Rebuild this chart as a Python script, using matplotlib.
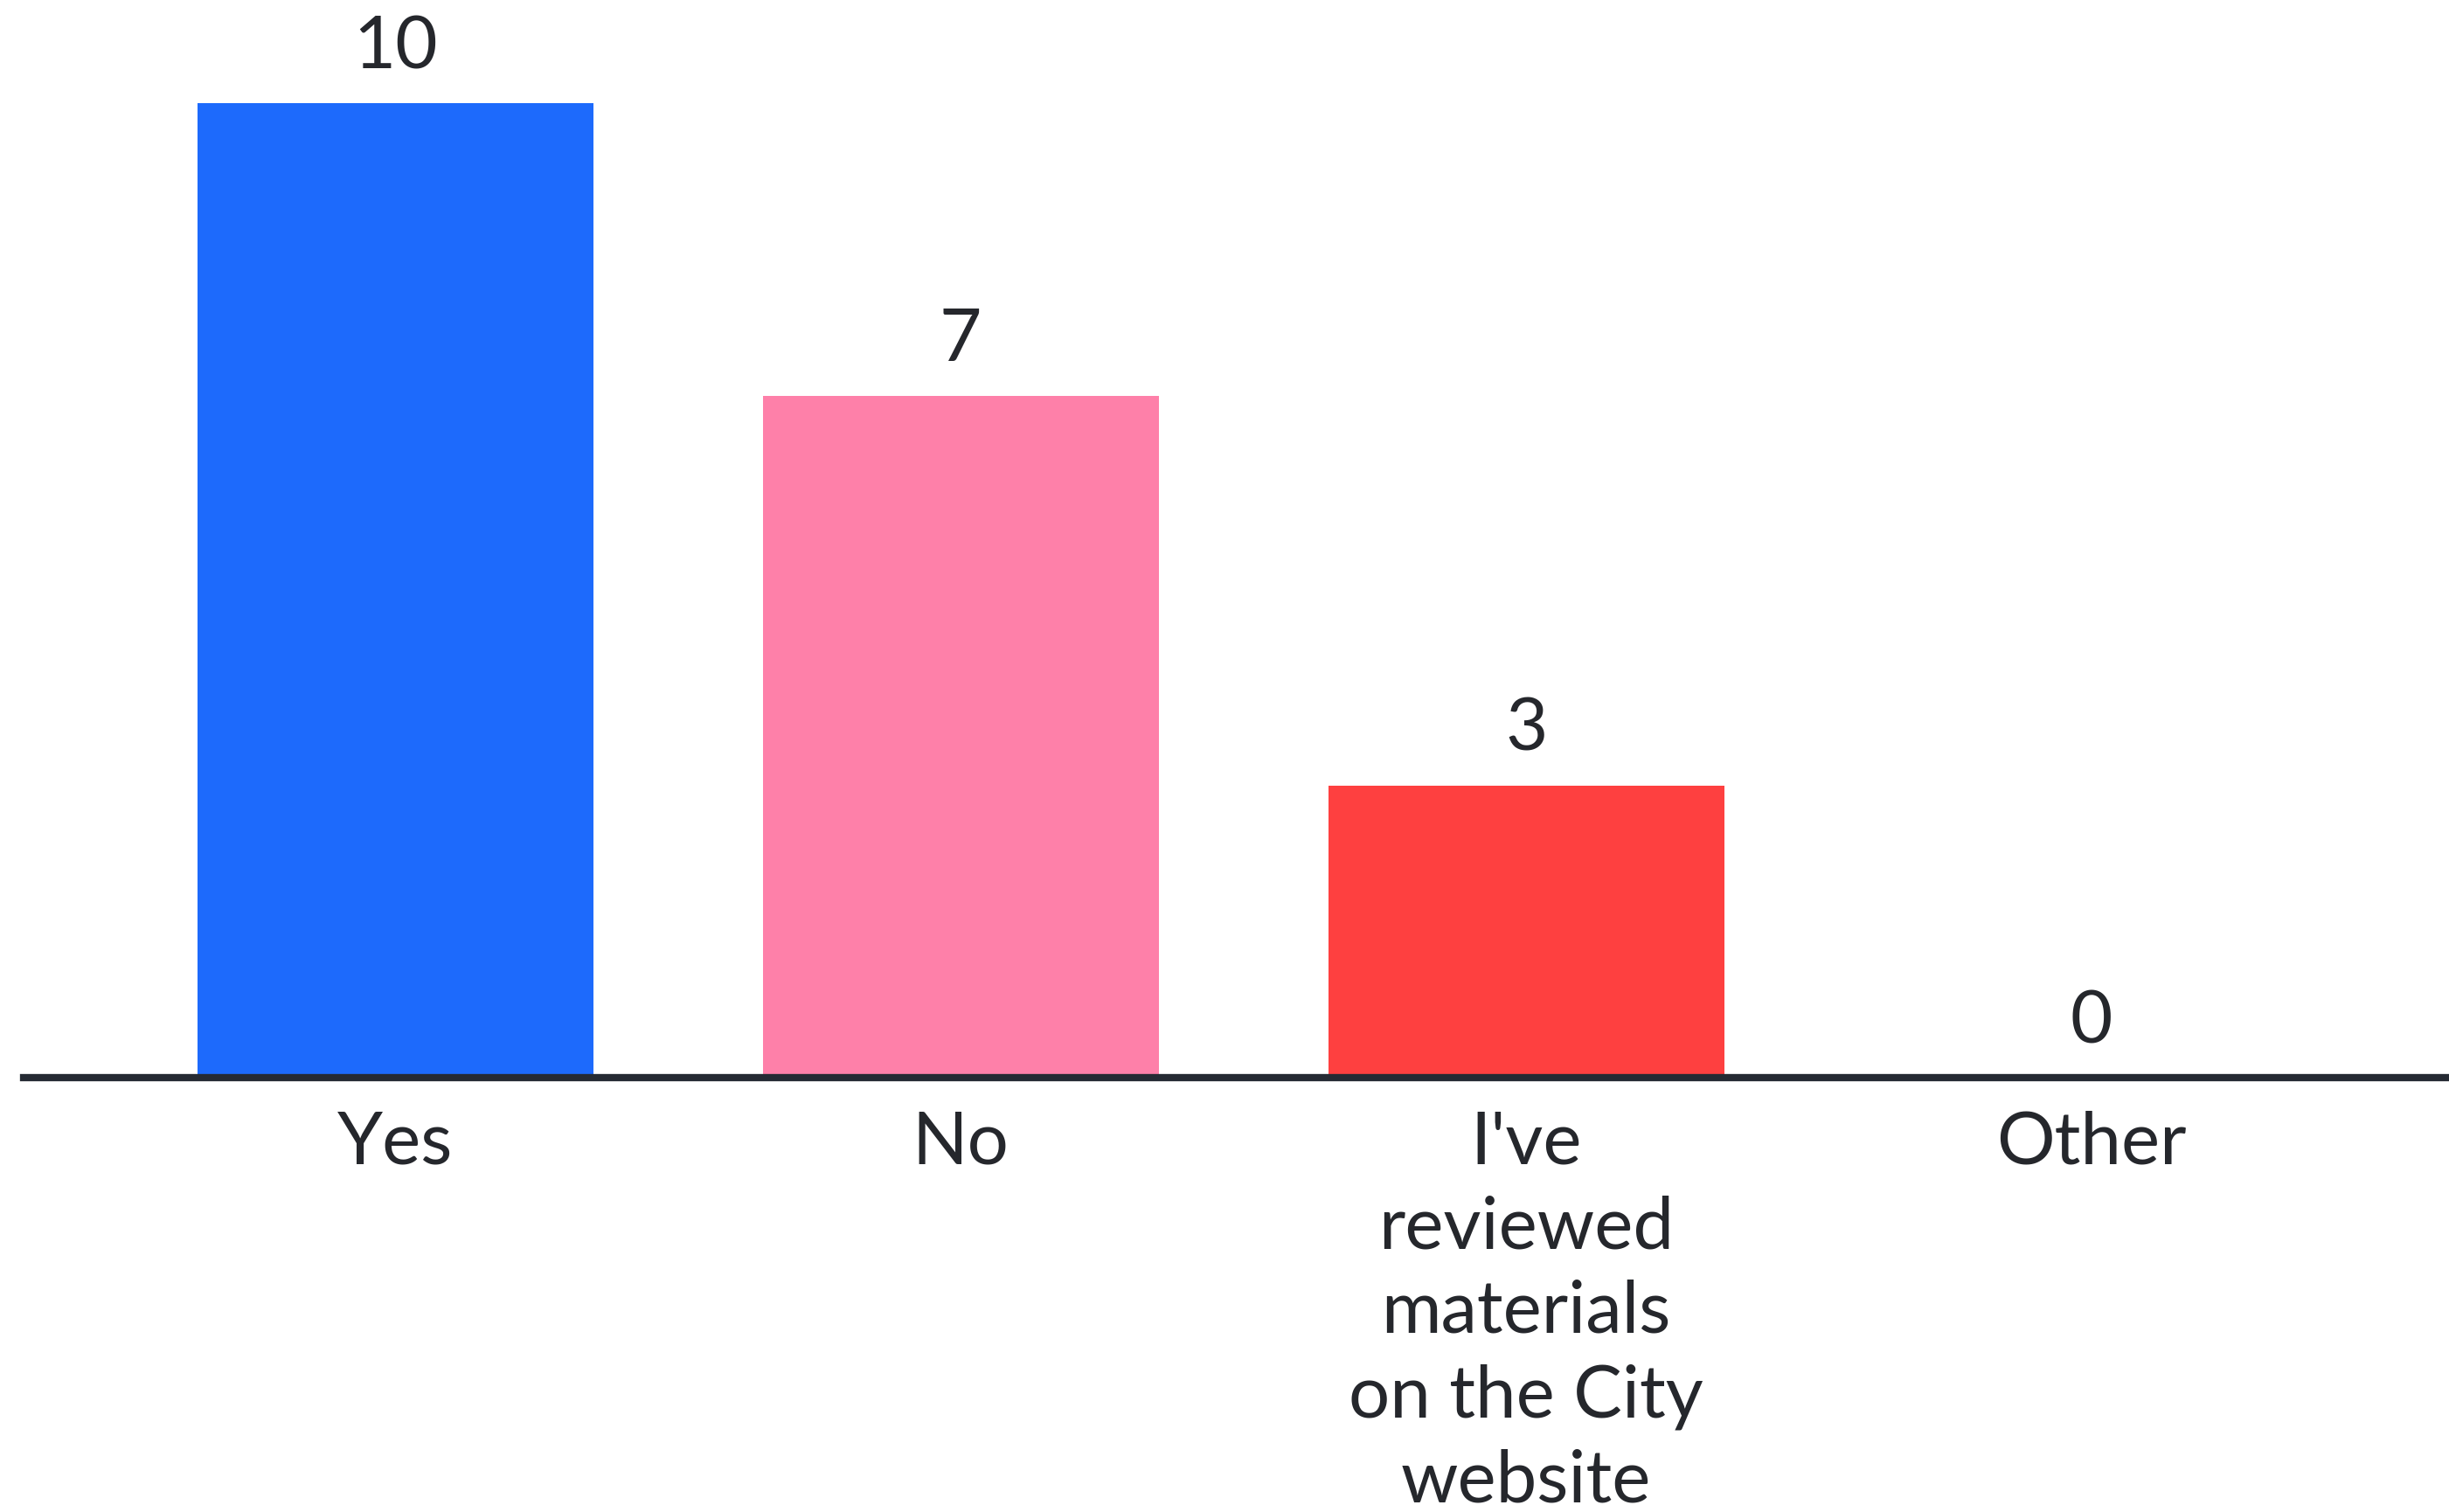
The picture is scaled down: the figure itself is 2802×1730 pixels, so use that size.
import matplotlib
matplotlib.use('Agg')
from matplotlib import pyplot as plt

categories = ['Yes', 'No', "I've\nreviewed\nmaterials\non the City\nwebsite", 'Other']
counts = [10, 7, 3, 0]
colors = ['#1d6afc', '#fe80a9', '#fe4040', '#999999']

plt.rcParams['font.family'] = ['Lato', 'DejaVu Sans']
txt = '#25272c'

fig = plt.figure(figsize=(28.02, 17.30), dpi=100)
ax = fig.add_axes([27/2802, (1730-1233)/1730, (2802-27)/2802, 1233/1730])

x = list(range(len(categories)))
bars = ax.bar(x, counts, width=0.70, color=colors, zorder=2)
ax.bar_label(bars, labels=[str(c) for c in counts], padding=18,
             fontsize=60, color=txt)

ax.set_xlim(-0.657, 3.632)
ax.set_ylim(0, 11.06)
ax.set_xticks(x)
ax.set_xticklabels(categories, fontsize=60, color=txt)
for lab in ax.get_xticklabels():
    lab.set_linespacing(1.34)
ax.tick_params(axis='x', length=0, pad=27)
ax.set_yticks([])

for s in ['top', 'right', 'left']:
    ax.spines[s].set_visible(False)
ax.spines['bottom'].set_linewidth(6)
ax.spines['bottom'].set_color('#252a33')
ax.spines['bottom'].set_zorder(3)

fig.savefig('out.png', dpi=100)
